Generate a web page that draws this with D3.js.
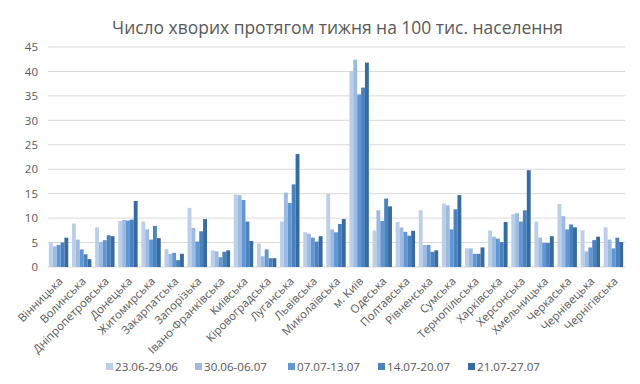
<!DOCTYPE html>
<html><head><meta charset="utf-8">
<script src="https://cdn.jsdelivr.net/npm/d3@7"></script>
<style>body{margin:0;background:#fff}svg{display:block}</style>
</head><body>
<svg id="c" width="640" height="384"></svg>
<script>
const categories = ["Вінницька","Волинська","Дніпропетровська","Донецька","Житомирська","Закарпатська","Запорізька","Івано-Франківська","Київська","Кіровоградська","Луганська","Львівська","Миколаївська","м. Київ","Одеська","Полтавська","Рівненська","Сумська","Тернопільська","Харківська","Херсонська","Хмельницька","Черкаська","Чернівецька","Чернігівська"];
const seriesNames = ["23.06-29.06","30.06-06.07","07.07-13.07","14.07-20.07","21.07-27.07"];
const s1 = [5.1,8.9,8.1,9.4,9.3,3.7,12.1,3.4,14.8,4.8,9.3,7.1,14.9,40.1,7.5,9.2,11.6,13.0,3.8,7.5,10.8,9.3,12.9,7.5,8.1];
const s2 = [4.2,5.6,5.1,9.6,7.7,2.7,8.0,3.2,14.7,2.2,15.2,6.8,7.7,42.4,11.6,8.1,4.5,12.6,3.8,6.2,11.0,6.0,10.4,3.2,5.6];
const s3 = [4.5,3.6,5.5,9.5,5.6,2.9,5.2,2.0,13.7,3.6,13.1,6.0,7.1,35.3,9.4,7.2,4.5,7.7,2.7,5.8,9.3,4.9,7.7,4.0,3.8];
const s4 = [5.0,2.6,6.5,9.7,8.4,1.4,7.3,3.1,9.3,1.8,16.9,5.2,8.8,36.7,14.0,6.4,3.1,11.8,2.7,5.1,11.6,4.9,8.7,5.5,6.0];
const s5 = [6.0,1.6,6.3,13.5,5.9,2.7,9.8,3.4,5.3,1.8,23.1,6.3,9.8,41.8,12.4,7.4,3.4,14.7,4.0,9.2,19.8,6.3,8.1,6.2,5.1];
const yTicks = [0,5,10,15,20,25,30,35,40,45];
const series = [s1,s2,s3,s4,s5];
const colors = ["#bccfe9","#9dbbe2","#6097d2","#4a82c0","#376a9f"];
const FONT = "'Open Sans', sans-serif";

const svg = d3.select("#c");
const m = {l:48, r:15, t:47, b:117};
const W = 640, H = 384;
const x0 = d3.scaleBand().domain(categories).range([m.l - 1, W - m.r]).paddingInner(0.16).paddingOuter(0.08);
const x1 = d3.scaleBand().domain(d3.range(5)).range([0, x0.bandwidth()]);
const y = d3.scaleLinear().domain([0,45]).range([H - m.b, m.t]);

function fitSize(text, target, base) {
  const t = svg.append("text").attr("font-family", FONT).attr("font-size", base).text(text);
  const w = t.node().getComputedTextLength();
  t.remove();
  return base * target / w;
}

// gridlines
svg.append("g").selectAll("line").data(yTicks).join("line")
  .attr("x1", m.l).attr("x2", W - m.r)
  .attr("y1", d => y(d)).attr("y2", d => y(d))
  .attr("stroke", "#d9d9d9").attr("stroke-width", 1);

// y axis labels
const yAxis = d3.axisLeft(y).tickValues(yTicks).tickSize(0).tickPadding(10);
const ya = svg.append("g").attr("transform", `translate(${m.l},0)`).call(yAxis);
ya.select(".domain").remove();
ya.selectAll("text").attr("font-family", FONT).attr("font-size",11.5).attr("fill","#595959");

// bars
const g = svg.append("g");
categories.forEach((c, i) => {
  series.forEach((s, k) => {
    g.append("rect")
      .attr("x", x0(c) + x1(k))
      .attr("y", y(s[i]))
      .attr("width", x1.bandwidth())
      .attr("height", y(0) - y(s[i]))
      .attr("fill", colors[k]);
  });
});

// x axis labels
const labSize = fitSize("Дніпропетровська", 102, 10);
const xAxis = d3.axisBottom(x0).tickSize(0).tickPadding(0);
const xa = svg.append("g").attr("transform", `translate(0,${H - m.b})`).call(xAxis);
xa.select(".domain").remove();
xa.selectAll("text")
  .attr("font-family", FONT).attr("font-size", labSize).attr("fill","#595959")
  .attr("text-anchor","end").attr("y", 0).attr("dy", 0)
  .attr("transform","translate(5,15) rotate(-45)");

// title
const titleText = "Число хворих протягом тижня на 100 тис. населення";
svg.append("text").attr("x", 337.5).attr("y", 34).attr("text-anchor","middle")
  .attr("font-family", FONT).attr("font-size", fitSize(titleText, 451, 17)).attr("fill","#595959")
  .text(titleText);

// legend
const legendX = [106,195,288,378,468];
const legSize = fitSize("23.06-29.06", 63, 11);
const lg = svg.append("g");
seriesNames.forEach((n, k) => {
  lg.append("rect").attr("x", legendX[k]).attr("y", 363).attr("width", 7).attr("height", 7).attr("fill", colors[k]);
  lg.append("text").attr("x", legendX[k] + 9).attr("y", 371)
    .attr("font-family", FONT).attr("font-size", legSize).attr("fill","#595959").text(n);
});
</script>
</body></html>
